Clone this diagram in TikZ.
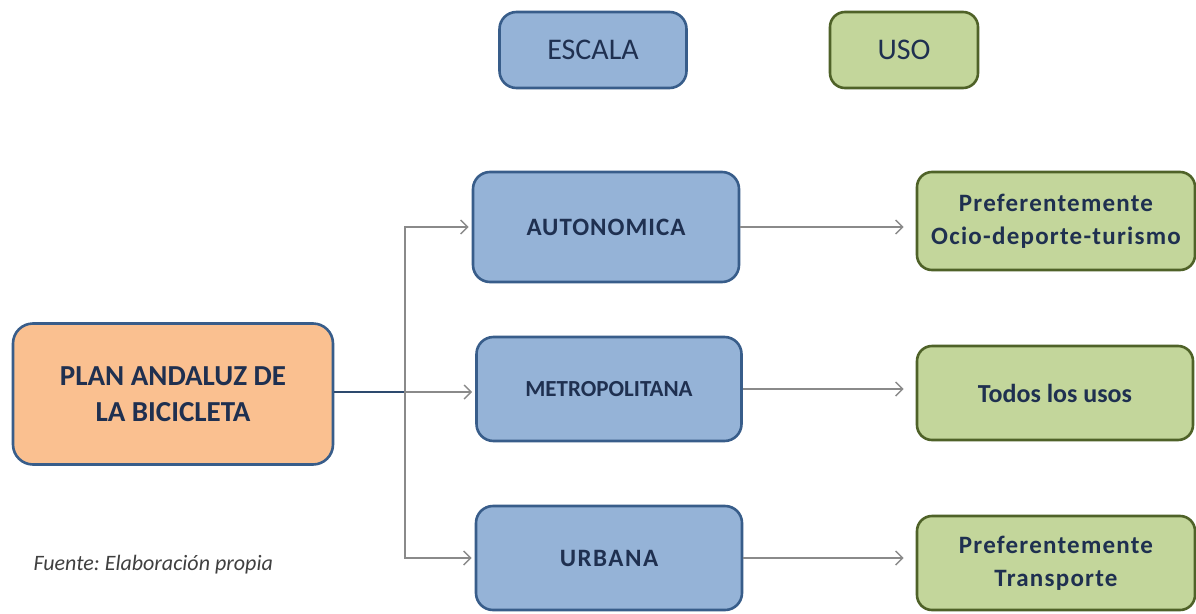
\documentclass[tikz,border=0pt]{standalone}
\usepackage{fontspec}
\setmainfont{Carlito}
\usetikzlibrary{arrows.meta}
\definecolor{bluefill}{HTML}{95B3D7}
\definecolor{blueline}{HTML}{385D8A}
\definecolor{orfill}{HTML}{FAC090}
\definecolor{grfill}{HTML}{C3D69B}
\definecolor{grline}{HTML}{4F6228}
\definecolor{txt}{HTML}{1F3050}
\definecolor{conn}{HTML}{8A8A8A}
\tikzset{
  box/.style={draw, line width=2.6pt, rounded corners=17pt, align=center, text=txt, inner sep=0pt},
  bluebox/.style={box, fill=bluefill, draw=blueline},
  greenbox/.style={box, fill=grfill, draw=grline, rounded corners=15pt},
  orbox/.style={box, fill=orfill, draw=blueline, rounded corners=20pt},
  arr/.style={draw=conn, line width=1.5pt, -{Straight Barb[length=7pt,width=14pt,line width=1.4pt]}},
}
\begin{document}
\begin{tikzpicture}[x=1pt,y=-1pt]
\useasboundingbox[fill=white] (0,0) rectangle (1196,613);
% headers
\node[bluebox, minimum width=187pt, minimum height=76pt, font=\fontsize{30}{34}\selectfont] (esc) at (593,50) {ESCALA};
\node[greenbox, minimum width=148pt, minimum height=76pt, font=\fontsize{30}{34}\selectfont] (uso) at (904,50) {USO};
% main
\node[orbox, minimum width=320pt, minimum height=141pt, font=\fontsize{29}{36}\selectfont\bfseries] (plan) at (173,394) {PLAN ANDALUZ DE\\LA BICICLETA};
% scales
\node[bluebox, minimum width=266pt, minimum height=110pt, font=\fontsize{25}{30}\selectfont\bfseries\addfontfeatures{LetterSpace=4}] (auto) at (606,227) {AUTONOMICA};
\node[bluebox, minimum width=265pt, minimum height=104pt, font=\fontsize{23}{28}\selectfont\bfseries] (metro) at (609,389) {METROPOLITANA};
\node[bluebox, minimum width=266pt, minimum height=104pt, font=\fontsize{25}{30}\selectfont\bfseries\addfontfeatures{LetterSpace=6}] (urb) at (609,558) {URBANA};
% uses
\node[greenbox, minimum width=278pt, minimum height=98pt, font=\fontsize{25}{33}\selectfont\bfseries\addfontfeatures{LetterSpace=5}] (g1) at (1056,221) {Preferentemente\\Ocio-deporte-turismo};
\node[greenbox, minimum width=276pt, minimum height=94pt, font=\fontsize{26}{30}\selectfont\bfseries] (g2) at (1055,393) {Todos los usos};
\node[greenbox, minimum width=278pt, minimum height=94pt, font=\fontsize{25}{33}\selectfont\bfseries\addfontfeatures{LetterSpace=5}] (g3) at (1056,563) {Preferentemente\\Transporte};
% source
\node[anchor=west, text=black!75, font=\fontsize{22}{26}\selectfont\itshape\frenchspacing] (src) at (30,565) {Fuente: Elaboración propia};
% connectors
\coordinate (j) at (405,392);
\draw[line width=2pt, draw=blueline!80!black] (plan.east |- j) -- (j);
\draw[arr, shorten >=3pt] (j) |- (auto.west);
\draw[arr, shorten >=3pt] (j) -- (j -| metro.west);
\draw[arr, shorten >=3pt] (j) |- (urb.west);
\draw[arr, shorten >=12pt] (auto.east) -- (auto.east -| g1.west);
\draw[arr, shorten >=12pt] (metro.east) -- (metro.east -| g2.west);
\draw[arr, shorten >=12pt] (urb.east) -- (urb.east -| g3.west);
\end{tikzpicture}
\end{document}
